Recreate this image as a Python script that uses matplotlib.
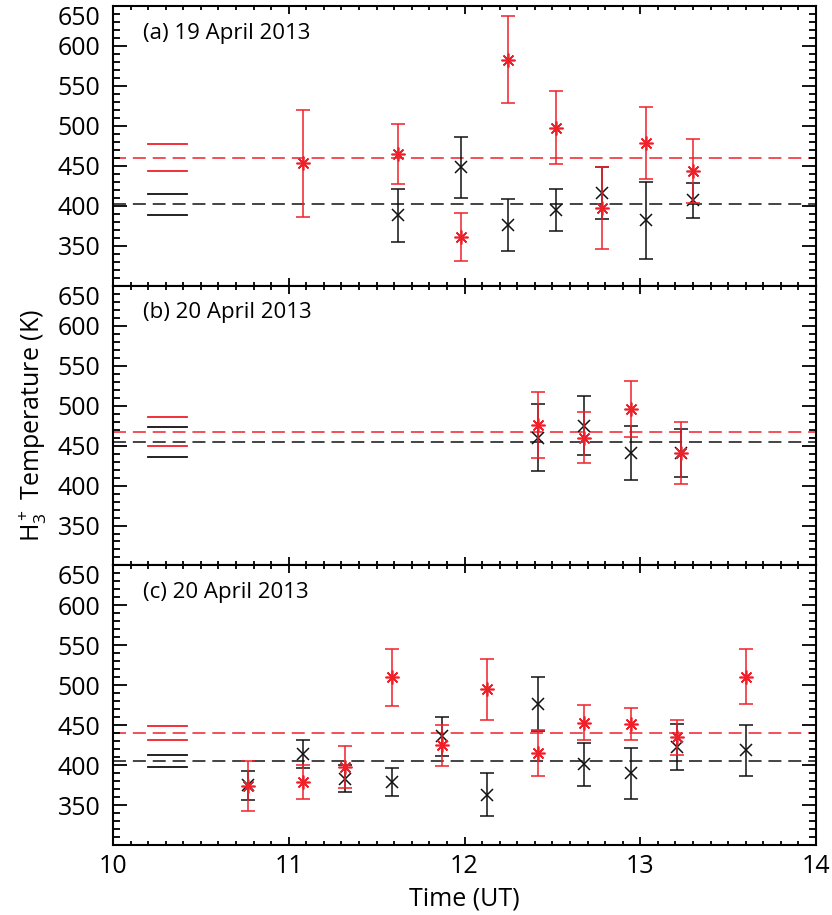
import matplotlib
matplotlib.use("Agg")
import matplotlib.pyplot as plt
from matplotlib.ticker import MultipleLocator, FixedLocator

plt.rcParams['font.family'] = ['Open Sans', 'DejaVu Sans']
plt.rcParams['mathtext.fontset'] = 'custom'
plt.rcParams['mathtext.rm'] = 'Open Sans'
plt.rcParams['mathtext.it'] = 'Open Sans'

RED = '#f0202a'
BLACK = '#111111'

# ---------------- data ----------------
titles = ['(a) 19 April 2013', '(b) 20 April 2013', '(c) 20 April 2013']

# panel (a)
a_red_t = [11.08, 11.62, 11.98, 12.25, 12.52, 12.78, 13.03, 13.30]
a_red_v = [453, 465, 361, 583, 498, 397, 479, 444]
a_red_e = [67, 38, 30, 54, 46, 51, 45, 40]
a_blk_t = [11.62, 11.98, 12.25, 12.52, 12.78, 13.03, 13.30]
a_blk_v = [388, 448, 376, 395, 416, 382, 407]
a_blk_e = [33, 38, 32, 26, 32, 48, 22]
a_red_mean, a_red_lo, a_red_hi = 460, 443, 477
a_blk_mean, a_blk_lo, a_blk_hi = 402, 389, 415

# panel (b)
b_red_t = [12.42, 12.68, 12.95, 13.23]
b_red_v = [476, 460, 496, 441]
b_red_e = [41, 32, 35, 39]
b_blk_t = [12.42, 12.68, 12.95, 13.23]
b_blk_v = [460, 475, 441, 441]
b_blk_e = [42, 37, 34, 30]
b_red_mean, b_red_lo, b_red_hi = 467.5, 449, 486
b_blk_mean, b_blk_lo, b_blk_hi = 454, 436, 473

# panel (c)
c_red_t = [10.77, 11.08, 11.32, 11.59, 11.87, 12.13, 12.42, 12.68, 12.95, 13.21, 13.60]
c_red_v = [374, 379, 398, 510, 425, 495, 415, 453, 452, 435, 511]
c_red_e = [31, 21, 26, 36, 26, 38, 29, 22, 20, 22, 34]
c_blk_t = [10.77, 11.08, 11.32, 11.59, 11.87, 12.13, 12.42, 12.68, 12.95, 13.21, 13.60]
c_blk_v = [375, 414, 383, 379, 436, 363, 477, 401, 390, 423, 419]
c_blk_e = [18, 17, 17, 17, 25, 27, 34, 27, 32, 29, 32]
c_red_mean, c_red_lo, c_red_hi = 440.5, 432, 449
c_blk_mean, c_blk_lo, c_blk_hi = 405.5, 398, 413

ref_t0, ref_t1 = 10.2, 10.42

panels = [
    (a_red_t, a_red_v, a_red_e, a_blk_t, a_blk_v, a_blk_e,
     a_red_mean, a_red_lo, a_red_hi, a_blk_mean, a_blk_lo, a_blk_hi),
    (b_red_t, b_red_v, b_red_e, b_blk_t, b_blk_v, b_blk_e,
     b_red_mean, b_red_lo, b_red_hi, b_blk_mean, b_blk_lo, b_blk_hi),
    (c_red_t, c_red_v, c_red_e, c_blk_t, c_blk_v, c_blk_e,
     c_red_mean, c_red_lo, c_red_hi, c_blk_mean, c_blk_lo, c_blk_hi),
]

# ---------------- figure ----------------
fig = plt.figure(figsize=(8.32, 9.15), dpi=100)
left, width = 0.1358, 0.845
height = 0.3057
bottoms = [0.6877, 0.3820, 0.0763]

ax_b = None
for i, (pdata, title, bot) in enumerate(zip(panels, titles, bottoms)):
    (rt, rv, re_, bt, bv, be, rm, rlo, rhi, bm, blo, bhi) = pdata
    ax = fig.add_axes([left, bot, width, height])
    ax.set_xlim(10, 14)
    ax.set_ylim(300, 650)

    # dashed means
    ax.axhline(rm, color=RED, lw=1.1, dashes=(8.5, 4.5), zorder=1)
    ax.axhline(bm, color=BLACK, lw=1.1, dashes=(8.5, 4.5), zorder=1)
    # reference range lines
    for y in (rlo, rhi):
        ax.plot([ref_t0, ref_t1], [y, y], color=RED, lw=1.3)
    for y in (blo, bhi):
        ax.plot([ref_t0, ref_t1], [y, y], color=BLACK, lw=1.3)

    ax.errorbar(bt, bv, yerr=be, fmt='x', color=BLACK, ms=9, mew=1.1,
                elinewidth=1.1, capsize=4.7, capthick=1.1, zorder=3)
    ax.errorbar(rt, rv, yerr=re_, fmt='none', ecolor=RED,
                elinewidth=1.1, capsize=4.7, capthick=1.1, zorder=4)
    ax.plot(rt, rv, linestyle='none', marker=(8, 2, 0), ms=10, mew=1.2,
            color=RED, zorder=5)

    ax.text(0.043, 0.903, title, transform=ax.transAxes, fontsize=16,
            ha='left', va='center')

    ax.xaxis.set_major_locator(MultipleLocator(1))
    ax.xaxis.set_minor_locator(MultipleLocator(0.1))
    ax.yaxis.set_major_locator(FixedLocator([350, 400, 450, 500, 550, 600, 650]))
    ax.yaxis.set_minor_locator(MultipleLocator(10))
    ax.tick_params(axis='both', which='both', direction='in',
                   top=True, right=True, width=1.3, labelsize=18)
    ax.tick_params(axis='y', which='major', length=10, pad=9)
    ax.tick_params(axis='y', which='minor', length=5)
    ax.tick_params(axis='x', which='major', length=5.5, pad=6)
    ax.tick_params(axis='x', which='minor', length=3)
    for s in ax.spines.values():
        s.set_linewidth(1.5)
    if i < 2:
        ax.tick_params(axis='x', labelbottom=False)
    ylabs = ax.get_yticklabels()
    ylabs[-1].set_va('top')
    if i == 1:
        ax_b = ax
    if i == 2:
        ax.set_xlabel('Time (UT)', fontsize=18, labelpad=6)

ax_b.set_ylabel(r'H$_3^+$ Temperature (K)', fontsize=18, labelpad=6)

fig.savefig('out.png', dpi=100)
